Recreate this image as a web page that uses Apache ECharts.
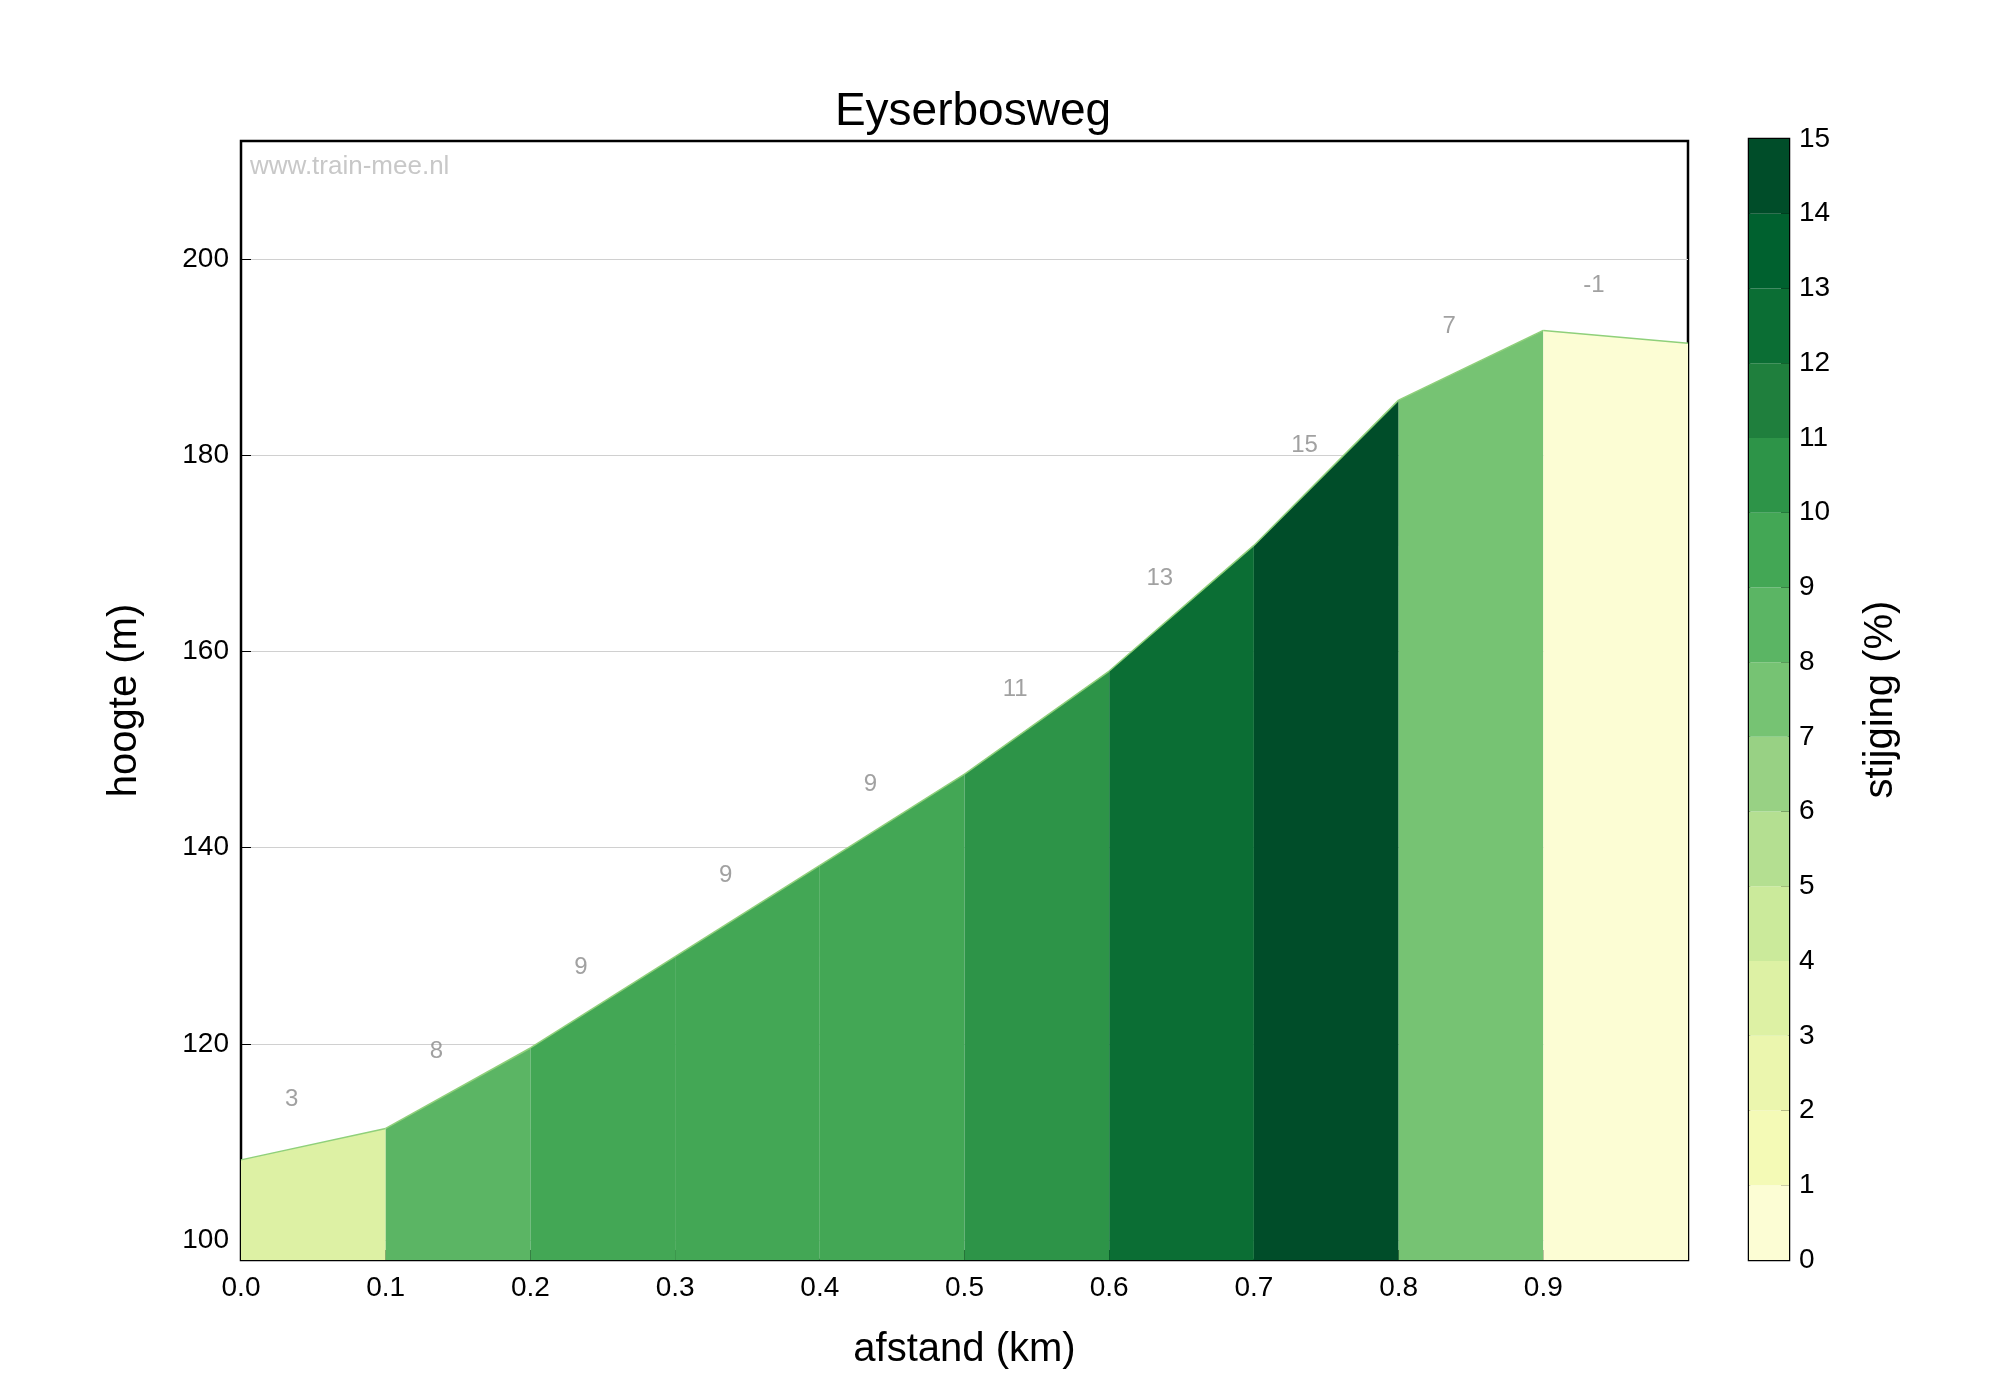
<!DOCTYPE html>
<html>
<head>
<meta charset="utf-8">
<script src="https://cdn.jsdelivr.net/npm/echarts@6/dist/echarts.min.js"></script>
<style>html,body{margin:0;padding:0;background:#fff}#chart{width:2000px;height:1400px}</style>
</head>
<body>
<div id="chart"></div>
<script>
// afstand (km) en hoogte (m)
const distances = [0.0, 0.1, 0.2, 0.3, 0.4, 0.5, 0.6, 0.7, 0.8, 0.9, 1.0];
const elevations = [108.2, 111.4, 119.6, 128.9, 138.2, 147.5, 158.0, 170.8, 185.6, 192.7, 191.4];
const gradeLabels = ["3", "8", "9", "9", "9", "11", "13", "15", "7", "-1"];
const barLevels = [0, 1, 2, 3, 4, 5, 6, 7, 8, 9, 10, 11, 12, 13, 14];
const levelColors = [
  "#fcfdd4", "#f4fab6", "#ebf6ae", "#ddf1a4", "#cbea9b", "#b4df91", "#98d184", "#76c373",
  "#5bb564", "#43a755", "#2d9448", "#1f7f3d", "#0b6e34", "#00612f", "#004d29"
];

const FONT = "Liberation Sans";
let chart = echarts.init(document.getElementById("chart"));

let series = [];
for (let i = 0; i < distances.length - 1; i++) {
  let slope = (elevations[i + 1] - elevations[i]) / ((distances[i + 1] - distances[i]) * 1000) * 100;
  let idx = Math.max(0, Math.min(14, Math.floor(slope)));
  series.push({
    type: "line",
    xAxisIndex: 0,
    yAxisIndex: 0,
    data: [[distances[i], elevations[i]], [distances[i + 1], elevations[i + 1]]],
    symbol: "none",
    lineStyle: { color: "#8fd07a", width: 1.5 },
    areaStyle: { color: levelColors[idx], opacity: 1, origin: "start" },
    z: 1,
  });
}

// percentage labels above each segment
let labelPoints = gradeLabels.map((g, i) => {
  let x = distances[i] + 0.035;
  let t = (x - distances[i]) / (distances[i + 1] - distances[i]);
  let y = elevations[i] + t * (elevations[i + 1] - elevations[i]) + 5;
  return { value: [x, y], name: g };
});
series.push({
  type: "scatter",
  xAxisIndex: 0,
  yAxisIndex: 0,
  symbolSize: 0,
  data: labelPoints,
  label: {
    show: true,
    position: "inside",
    formatter: (p) => p.name,
    color: "#8a8a8a",
    fontSize: 24,
    fontFamily: FONT,
  },
  z: 5,
});

// colour bar
barLevels.forEach((lv, i) => {
  series.push({
    type: "bar",
    xAxisIndex: 1,
    yAxisIndex: 1,
    stack: "cb",
    data: [1],
    barWidth: "100%",
    itemStyle: { color: levelColors[i] },
    silent: true,
  });
});

let option = {
  animation: false,
  title: {
    text: "Eyserbosweg",
    left: 968,
    top: 84,
    textAlign: "center",
    textStyle: { fontFamily: FONT, fontSize: 46, fontWeight: "normal", color: "#000" },
  },
  graphic: [
    { type: "text", left: 250, top: 154, style: { text: "www.train-mee.nl", fontFamily: FONT, fontSize: 26, fill: "#c8c8c8" } },
  ],
  grid: [
    { left: 241, top: 141, width: 1447, height: 1119, show: true, borderColor: "#000", borderWidth: 2.5, backgroundColor: "transparent" },
    { left: 1749, top: 139, width: 40, height: 1121, show: true, borderColor: "#000", borderWidth: 2.5 },
  ],
  xAxis: [
    {
      type: "value", gridIndex: 0, min: 0, max: 1, interval: 0.1,
      name: "afstand (km)", nameLocation: "middle", nameGap: 70,
      nameTextStyle: { fontFamily: FONT, fontSize: 40, color: "#000" },
      axisLine: { show: false },
      axisTick: { show: true, inside: true, length: 10, lineStyle: { color: "#000" } },
      axisLabel: { fontFamily: FONT, fontSize: 28, color: "#000", margin: 14,
        formatter: (v) => (v >= 0.999 ? "" : v.toFixed(1)) },
      splitLine: { show: false },
    },
    { type: "category", gridIndex: 1, data: ["c"], show: false },
  ],
  yAxis: [
    {
      type: "value", gridIndex: 0, min: 98, max: 212,
      name: "hoogte (m)", nameLocation: "middle", nameGap: 96,
      nameTextStyle: { fontFamily: FONT, fontSize: 40, color: "#000" },
      axisLine: { show: false },
      axisTick: { show: true, inside: true, length: 10, lineStyle: { color: "#000" },
        customValues: [100, 120, 140, 160, 180, 200] },
      axisLabel: { fontFamily: FONT, fontSize: 28, color: "#000", margin: 12,
        customValues: [100, 120, 140, 160, 180, 200] },
      splitLine: { show: true, lineStyle: { color: "#d0d0d0", width: 1.2 } },
    },
    {
      type: "value", gridIndex: 1, min: 0, max: 15, interval: 1, position: "right",
      name: "stijging (%)", nameLocation: "middle", nameGap: 72, nameRotate: 90,
      nameTextStyle: { fontFamily: FONT, fontSize: 40, color: "#000" },
      axisLine: { show: false },
      axisTick: { show: true, inside: true, length: 8, lineStyle: { color: "#000" } },
      axisLabel: { fontFamily: FONT, fontSize: 28, color: "#000", margin: 10 },
      splitLine: { show: false },
    },
  ],
  series: series,
};

option && chart.setOption(option);
</script>
</body>
</html>
